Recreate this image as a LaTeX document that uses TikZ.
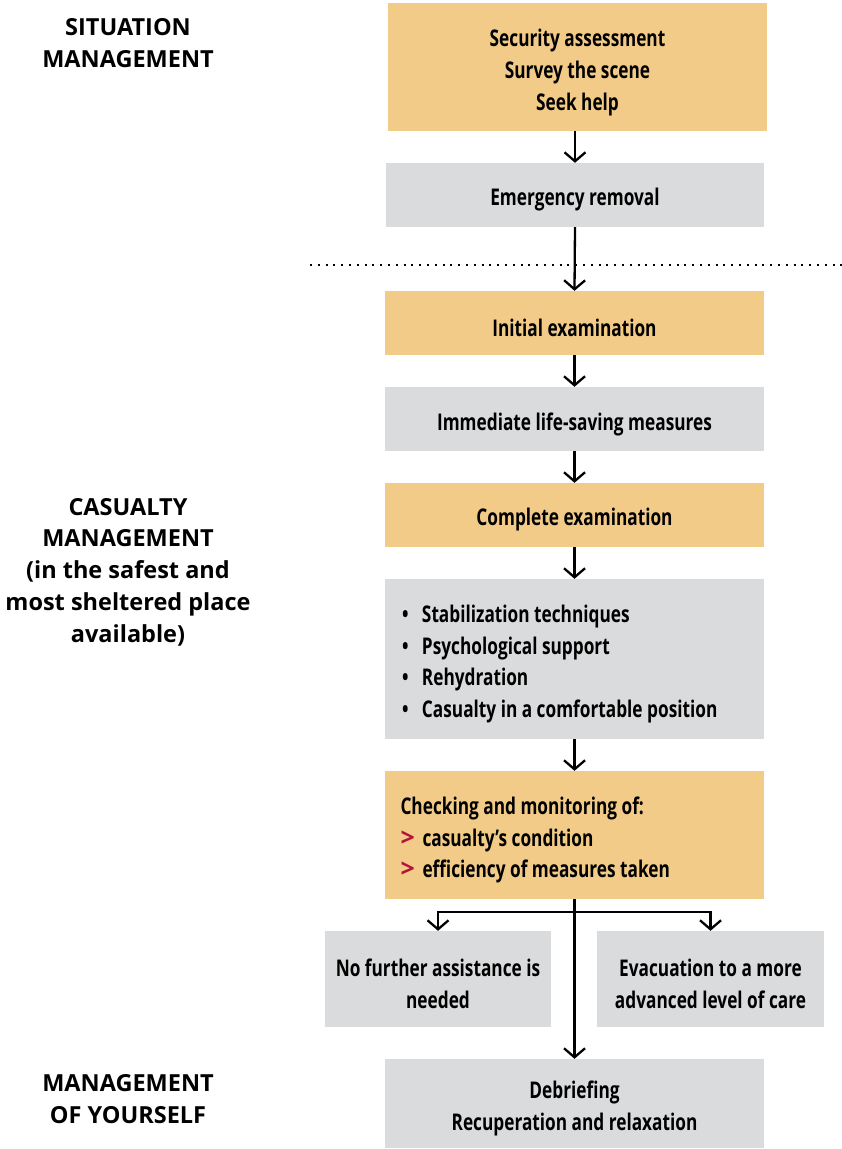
\documentclass[tikz,border=0pt]{standalone}
\usepackage{fontspec}
\usetikzlibrary{arrows.meta}
\newfontfamily\boxfont{Open Sans}[FakeStretch=0.75,BoldFont=* Bold,BoldFeatures={FakeStretch=0.75}]
\newfontfamily\sidefont{Open Sans}[BoldFont=* Bold]
\definecolor{obox}{HTML}{F2CB88}
\definecolor{gbox}{HTML}{DADBDC}
\definecolor{redmark}{HTML}{B5123A}
\tikzset{
  box/.style={rectangle, inner sep=0pt},
  orangebox/.style={box, fill=obox},
  graybox/.style={box, fill=gbox},
  txt/.style={inner sep=0pt, align=center, font=\boxfont\bfseries\fontsize{23}{31.7}\selectfont},
  ltxt/.style={txt, align=left, anchor=west},
  arr/.style={line width=2.3pt, -{Straight Barb[length=9pt,width=21pt,line width=2.3pt]}},
  side/.style={align=center, font=\sidefont\bfseries\fontsize{23.5}{31.7}\selectfont},
}
\newcommand{\bul}{\makebox[20pt][l]{\textbullet}}
\newcommand{\gt}{\makebox[22pt][l]{\textcolor{redmark}{\sidefont\bfseries\fontsize{25}{25}\selectfont>}}}
\begin{document}
\begin{tikzpicture}[x=1pt,y=-1pt]
\useasboundingbox (0,0) rectangle (842,1149);
\node[orangebox, minimum width=379, minimum height=128] (sec) at (577.5,67) {};
\node[txt] (sect) at ([yshift=-5.5pt]sec.center) {Security assessment\\Survey the scene\\Seek help};
\node[graybox, minimum width=378, minimum height=64] (emr) at (575,195) {};
\node[txt] (emrt) at ([yshift=-5pt]emr.center) {Emergency removal};
\node[orangebox, minimum width=379, minimum height=64] (ini) at (574.5,323) {};
\node[txt] (init) at ([yshift=-5pt]ini.center) {Initial examination};
\node[graybox, minimum width=379, minimum height=64] (imm) at (574.5,419) {};
\node[txt] (immt) at ([yshift=-5pt]imm.center) {Immediate life-saving measures};
\node[orangebox, minimum width=379, minimum height=64] (cpl) at (574.5,515) {};
\node[txt] (cplt) at ([yshift=-5pt]cpl.center) {Complete examination};
\node[graybox, minimum width=379, minimum height=160] (stab) at (574.5,659) {};
\node[ltxt] (stabt) at ([xshift=17pt,yshift=-5pt]stab.west)
  {\bul Stabilization techniques\\
   \bul Psychological support\\
   \bul Rehydration\\
   \bul Casualty in a comfortable position};
\node[orangebox, minimum width=379, minimum height=128] (chk) at (574.5,835) {};
\node[ltxt] (chkt) at ([xshift=15.5pt,yshift=-5pt]chk.west)
  {Checking and monitoring of:\\
   \gt casualty’s condition\\
   \gt efficiency of measures taken};
\node[graybox, minimum width=226, minimum height=96] (nf) at (438,979) {};
\node[txt] (nft) at ([yshift=-5pt]nf.center) {No further assistance is\\needed};
\node[graybox, minimum width=227, minimum height=96] (ev) at (710.5,979) {};
\node[txt] (evt) at ([yshift=-5pt]ev.center) {Evacuation to a more\\advanced level of care};
\node[graybox, minimum width=379, minimum height=89] (deb) at (574.5,1103.5) {};
\node[txt] (debt) at ([yshift=-5pt]deb.center) {Debriefing\\Recuperation and relaxation};

\node[side] (l1) at (128,43) {SITUATION\\MANAGEMENT};
\node[side] (l2) at (128,572) {CASUALTY\\MANAGEMENT\\(in the safest and\\most sheltered place\\available)};
\node[side] (l3) at (128,1099) {MANAGEMENT\\OF YOURSELF};

\coordinate (dl) at (310,265);
\coordinate (dr) at (842,265);
\draw[line width=2pt, dash pattern=on 2pt off 5.8pt] (dl) -- (dr);

\draw[arr] (sec.south -| emr.north) -- (emr.north);
\draw[arr] (emr.south) -- (ini.north);
\draw[arr] (ini.south) -- (imm.north);
\draw[arr] (imm.south) -- (cpl.north);
\draw[arr] (cpl.south) -- (stab.north);
\draw[arr] (stab.south) -- (chk.north);
\draw[arr] (chk.south) -- (deb.north);
\coordinate (br) at (574.5,912);
\draw[arr] (br) -| (nf.north);
\draw[arr] (br) -| (ev.north);
\end{tikzpicture}
\end{document}
